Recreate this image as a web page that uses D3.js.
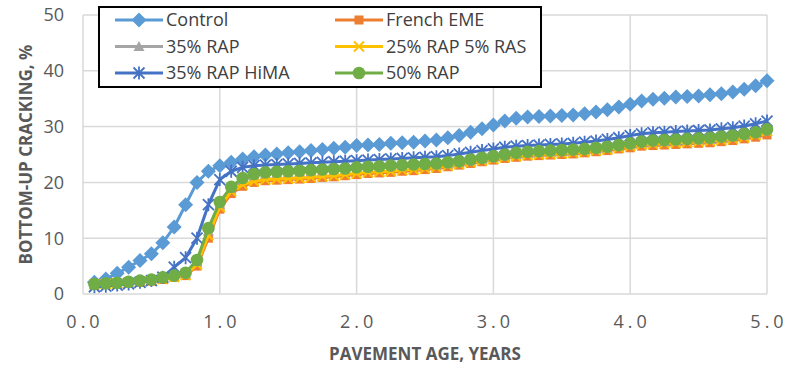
<!DOCTYPE html>
<html>
<head>
<meta charset="utf-8">
<script src="https://cdn.jsdelivr.net/npm/d3@7"></script>
<style>
  body { margin: 0; background: #fff; }
  text { font-family: 'Open Sans', sans-serif; }
</style>
</head>
<body>
<script>
const width = 799;
const height = 372;

// age in months (plotted as years)
const months = [1, 2, 3, 4, 5, 6, 7, 8, 9, 10, 11, 12, 13, 14, 15, 16, 17, 18, 19, 20,
  21, 22, 23, 24, 25, 26, 27, 28, 29, 30, 31, 32, 33, 34, 35, 36, 37, 38, 39, 40,
  41, 42, 43, 44, 45, 46, 47, 48, 49, 50, 51, 52, 53, 54, 55, 56, 57, 58, 59, 60];

const control = [2.1, 2.7, 3.7, 4.8, 6.0, 7.2, 9.2, 12.0, 16.0, 20.0, 22.0, 23.0, 23.6, 24.2, 24.6, 24.9, 25.1, 25.3, 25.5, 25.7,
  25.9, 26.1, 26.3, 26.6, 26.7, 26.8, 27.0, 27.1, 27.2, 27.4, 27.6, 28.0, 28.4, 29.0, 29.6, 30.3, 31.0, 31.5, 31.7, 31.8,
  31.9, 32.0, 32.1, 32.3, 32.6, 33.0, 33.5, 34.0, 34.6, 34.9, 35.1, 35.3, 35.4, 35.5, 35.7, 35.9, 36.2, 36.7, 37.3, 38.2];

const frenchEme = [1.7, 1.8, 1.9, 2.0, 2.1, 2.3, 2.6, 3.0, 3.3, 5.0, 10.0, 15.2, 18.0, 19.3, 20.0, 20.3, 20.4, 20.5, 20.6, 20.7,
  20.9, 21.0, 21.2, 21.4, 21.6, 21.7, 21.8, 22.0, 22.1, 22.3, 22.5, 22.8, 23.1, 23.4, 23.7, 24.0, 24.3, 24.5, 24.7, 24.8,
  24.9, 25.0, 25.1, 25.3, 25.5, 25.7, 26.0, 26.2, 26.5, 26.6, 26.7, 26.8, 26.9, 27.0, 27.1, 27.3, 27.5, 27.8, 28.1, 28.5];

const rap35 = [1.7, 1.8, 1.9, 2.1, 2.2, 2.4, 2.8, 3.2, 3.6, 5.8, 11.3, 16.0, 19.0, 20.5, 21.2, 21.5, 21.6, 21.7, 21.8, 21.9,
  22.0, 22.1, 22.2, 22.4, 22.5, 22.6, 22.7, 22.8, 22.9, 23.0, 23.1, 23.3, 23.5, 23.8, 24.1, 24.4, 24.7, 25.0, 25.2, 25.3,
  25.4, 25.5, 25.6, 25.7, 25.9, 26.1, 26.4, 26.7, 27.0, 27.2, 27.3, 27.4, 27.5, 27.6, 27.7, 27.9, 28.1, 28.4, 28.7, 29.2];

const rap25ras5 = [1.7, 1.8, 1.9, 2.0, 2.2, 2.4, 2.7, 3.1, 3.4, 5.3, 10.5, 15.6, 18.4, 19.6, 20.2, 20.5, 20.6, 20.7, 20.8, 20.9,
  21.1, 21.2, 21.4, 21.6, 21.8, 21.9, 22.0, 22.2, 22.3, 22.5, 22.7, 23.0, 23.3, 23.6, 23.9, 24.2, 24.5, 24.7, 24.9, 25.0,
  25.1, 25.2, 25.3, 25.5, 25.7, 25.9, 26.2, 26.5, 26.8, 26.9, 27.0, 27.1, 27.2, 27.3, 27.4, 27.6, 27.8, 28.1, 28.5, 29.2];

const rap35Hima = [1.3, 1.4, 1.6, 1.8, 2.1, 2.4, 3.0, 4.8, 6.5, 10.0, 16.0, 20.5, 22.0, 22.7, 23.0, 23.1, 23.2, 23.3, 23.4, 23.5,
  23.6, 23.7, 23.8, 23.9, 24.0, 24.1, 24.2, 24.3, 24.4, 24.5, 24.6, 24.8, 25.1, 25.4, 25.7, 26.0, 26.3, 26.5, 26.6, 26.7,
  26.8, 26.9, 27.0, 27.2, 27.4, 27.7, 28.0, 28.4, 28.7, 28.9, 29.0, 29.1, 29.2, 29.3, 29.4, 29.6, 29.8, 30.1, 30.5, 31.0];

const rap50 = [1.8, 1.9, 2.0, 2.2, 2.4, 2.6, 3.0, 3.3, 3.8, 6.1, 11.8, 16.5, 19.2, 20.8, 21.5, 21.8, 21.9, 22.0, 22.1, 22.2,
  22.3, 22.4, 22.5, 22.7, 22.8, 22.9, 23.0, 23.1, 23.2, 23.3, 23.4, 23.6, 23.8, 24.1, 24.4, 24.7, 25.0, 25.3, 25.5, 25.6,
  25.7, 25.8, 25.9, 26.0, 26.2, 26.4, 26.7, 27.0, 27.3, 27.5, 27.6, 27.7, 27.8, 27.9, 28.0, 28.2, 28.4, 28.7, 29.0, 29.5];

const seriesNames = ['Control', 'French EME', '35% RAP', '25% RAP 5% RAS', '35% RAP HiMA', '50% RAP'];
const seriesValues = [control, frenchEme, rap35, rap25ras5, rap35Hima, rap50];
const seriesColors = ['#5B9BD5', '#ED7D31', '#A5A5A5', '#FFC000', '#4472C4', '#70AD47'];
const seriesMarkers = ['diamond', 'square', 'triangle', 'x', 'star', 'circle'];

const xTicks = [0, 1, 2, 3, 4, 5];
const yTicks = [0, 10, 20, 30, 40, 50];

const svg = d3
  .select('body')
  .append('svg')
  .attr('width', width)
  .attr('height', height);

const x = d3.scaleLinear().domain([0, 5]).range([83, 767]);
const y = d3.scaleLinear().domain([0, 50]).range([294, 15]);

// gridlines
svg.append('g')
  .selectAll('line')
  .data(yTicks)
  .enter()
  .append('line')
  .attr('x1', x(0)).attr('x2', x(5))
  .attr('y1', (d) => y(d)).attr('y2', (d) => y(d))
  .attr('stroke', '#d9d9d9')
  .attr('stroke-width', 1.5);

svg.append('g')
  .selectAll('line')
  .data(xTicks)
  .enter()
  .append('line')
  .attr('x1', (d) => x(d)).attr('x2', (d) => x(d))
  .attr('y1', y(0)).attr('y2', y(50))
  .attr('stroke', '#d9d9d9')
  .attr('stroke-width', 1.5);

// tick labels
svg.append('g')
  .selectAll('text')
  .data(yTicks)
  .enter()
  .append('text')
  .attr('x', 64)
  .attr('y', (d) => y(d))
  .attr('dy', '0.35em')
  .attr('text-anchor', 'end')
  .attr('font-size', 18)
  .attr('fill', '#595959')
  .text((d) => d);

svg.append('g')
  .selectAll('text')
  .data(xTicks)
  .enter()
  .append('text')
  .attr('x', (d) => x(d) + 2)
  .attr('y', 322)
  .attr('dy', '0.35em')
  .attr('text-anchor', 'middle')
  .attr('font-size', 18)
  .attr('letter-spacing', 4)
  .attr('fill', '#595959')
  .text((d) => d3.format('.1f')(d));

// axis titles
svg.append('text')
  .attr('x', 425)
  .attr('y', 354)
  .attr('dy', '0.35em')
  .attr('text-anchor', 'middle')
  .attr('font-size', 17)
  .attr('font-weight', 'bold')
  .attr('fill', '#595959')
  .text('PAVEMENT AGE, YEARS');

svg.append('text')
  .attr('transform', `translate(26, ${(y(0) + y(50)) / 2}) rotate(-90)`)
  .attr('dy', '0.35em')
  .attr('text-anchor', 'middle')
  .attr('font-size', 17)
  .attr('font-weight', 'bold')
  .attr('fill', '#595959')
  .text('BOTTOM-UP CRACKING, %');

// marker drawing
function drawMarker(g, type, color) {
  if (type === 'diamond') {
    g.append('path').attr('d', 'M0,-7.5L7.5,0L0,7.5L-7.5,0Z').attr('fill', color);
  } else if (type === 'square') {
    g.append('rect').attr('x', -4.5).attr('y', -4.5).attr('width', 9).attr('height', 9).attr('fill', color);
  } else if (type === 'triangle') {
    g.append('path').attr('d', 'M0,-5.5L5.5,4.5L-5.5,4.5Z').attr('fill', color);
  } else if (type === 'x') {
    g.append('path').attr('d', 'M-5,-5L5,5M5,-5L-5,5').attr('stroke', color).attr('stroke-width', 2).attr('fill', 'none');
  } else if (type === 'star') {
    g.append('path').attr('d', 'M-5.5,-5.5L5.5,5.5M5.5,-5.5L-5.5,5.5M0,-6.5L0,6.5').attr('stroke', color).attr('stroke-width', 1.8).attr('fill', 'none');
  } else if (type === 'circle') {
    g.append('circle').attr('r', 6.3).attr('fill', color);
  }
}

const line = d3.line()
  .x((d) => x(d.age))
  .y((d) => y(d.value));

seriesNames.forEach((name, i) => {
  const pts = months.map((m, j) => ({ age: m / 12, value: seriesValues[i][j] }));
  const g = svg.append('g').attr('class', 'series');
  g.append('path')
    .datum(pts)
    .attr('d', line)
    .attr('fill', 'none')
    .attr('stroke', seriesColors[i])
    .attr('stroke-width', 3)
    .attr('stroke-linejoin', 'round');
  g.selectAll('.mk')
    .data(pts)
    .enter()
    .append('g')
    .attr('class', 'mk')
    .attr('transform', (d) => `translate(${x(d.age)},${y(d.value)})`)
    .each(function() { drawMarker(d3.select(this), seriesMarkers[i], seriesColors[i]); });
});

// legend
const legend = svg.append('g');
legend.append('rect')
  .attr('x', 99).attr('y', 7)
  .attr('width', 442).attr('height', 80)
  .attr('fill', '#fff')
  .attr('stroke', '#000')
  .attr('stroke-width', 2);

seriesNames.forEach((name, i) => {
  const col = i % 2;
  const row = Math.floor(i / 2);
  const lx = col === 0 ? 115 : 335;
  const ly = 20 + row * 26.5;
  const item = legend.append('g');
  item.append('line')
    .attr('x1', lx).attr('x2', lx + 48)
    .attr('y1', ly).attr('y2', ly)
    .attr('stroke', seriesColors[i])
    .attr('stroke-width', 3);
  const mk = item.append('g').attr('transform', `translate(${lx + 24},${ly})`);
  drawMarker(mk, seriesMarkers[i], seriesColors[i]);
  item.append('text')
    .attr('x', lx + 51)
    .attr('y', ly)
    .attr('dy', '0.35em')
    .attr('font-size', 18)
    .attr('fill', '#404040')
    .text(name);
});
</script>
</body>
</html>
